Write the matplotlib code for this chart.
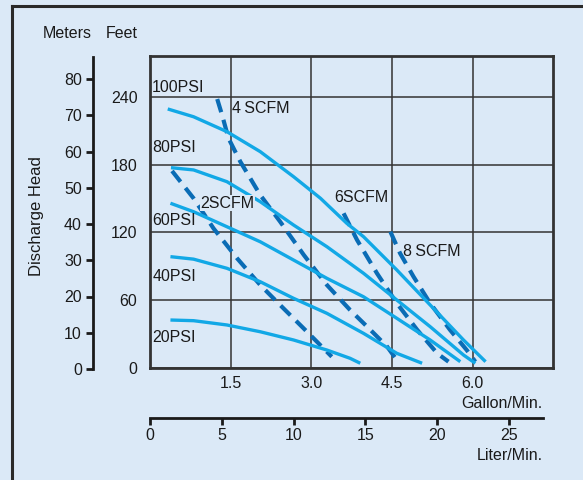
import matplotlib
matplotlib.use("Agg")
import matplotlib.pyplot as plt
from matplotlib.lines import Line2D

plt.rcParams['font.family'] = ['Liberation Sans', 'DejaVu Sans']

# ---- data (flow in gallon/min, head in feet) ----
psi_labels = ["100PSI", "80PSI", "60PSI", "40PSI", "20PSI"]
psi100_gpm = [0.33, 0.81, 1.43, 2.05, 2.67, 3.17, 3.66, 3.97, 4.59, 5.21, 5.83, 6.24]
psi100_ft = [229.4, 222.5, 209.3, 191.6, 169.4, 150.3, 128.1, 116.3, 86.8, 55.8, 24.8, 5.6]
psi80_gpm = [0.39, 0.81, 1.43, 2.05, 2.67, 3.29, 3.97, 4.59, 5.21, 5.83, 6.05]
psi80_ft = [177.4, 175.4, 165.0, 147.3, 126.6, 107.4, 83.9, 60.2, 36.6, 11.5, 4.2]
psi60_gpm = [0.38, 0.81, 1.43, 2.05, 2.67, 3.29, 3.97, 4.59, 5.21, 5.77]
psi60_ft = [145.9, 138.4, 125.1, 111.8, 95.6, 79.4, 63.1, 44.0, 24.8, 5.6]
psi40_gpm = [0.38, 0.81, 1.43, 2.05, 2.67, 3.29, 3.97, 4.59, 5.06]
psi40_ft = [98.6, 96.4, 88.3, 76.4, 61.7, 48.4, 30.7, 13.0, 4.2]
psi20_gpm = [0.38, 0.81, 1.43, 2.05, 2.67, 3.29, 3.72, 3.91]
psi20_ft = [42.5, 41.9, 38.1, 32.1, 24.8, 15.9, 8.6, 4.2]

scfm_labels = ["2SCFM", "4\u2009SCFM", "6SCFM", "8\u2009SCFM"]
scfm2_gpm = [0.41, 0.81, 1.18, 1.62, 2.05, 2.48, 2.92, 3.38]
scfm2_ft = [174.5, 150.3, 123.7, 97.1, 73.5, 52.9, 32.1, 10.0]
scfm4_gpm = [1.25, 1.34, 1.46, 1.68, 2.05, 2.42, 2.86, 3.29, 3.72, 4.10, 4.41, 4.59]
scfm4_ft = [238.2, 224.1, 203.4, 182.7, 153.2, 129.6, 100.1, 73.5, 51.4, 33.7, 18.9, 7.1]
scfm6_gpm = [3.60, 3.85, 4.22, 4.59, 4.97, 5.34, 5.55]
scfm6_ft = [137.0, 113.4, 83.9, 57.3, 33.7, 13.0, 5.6]
scfm8_gpm = [4.47, 4.65, 4.90, 5.21, 5.58, 5.89, 6.05]
scfm8_ft = [120.7, 101.6, 80.9, 57.3, 33.7, 15.9, 5.6]

gpm_ticks = [1.5, 3.0, 4.5, 6.0]
gpm_ticklabels = ["1.5", "3.0", "4.5", "6.0"]
feet_ticks = [0, 60, 120, 180, 240]
meter_ticks = [0, 10, 20, 30, 40, 50, 60, 70, 80]
liter_ticks = [0, 5, 10, 15, 20, 25]

# label anchor positions (gpm, ft)
psi_label_pos = [(0.04, 248), (0.04, 195), (0.04, 131), (0.04, 80.6), (0.04, 26.6)]
scfm_label_pos = [(0.94, 146), (1.53, 230), (3.43, 151), (4.71, 103.6)]

# ---- style ----
BG = "#dbe9f7"
SOLID = "#12a8e6"
DASH = "#0a6cb5"
GRID = "#333333"
TXT = "#1a1a1a"
FS = 11.5

W, H = 583, 480
fig = plt.figure(figsize=(W / 100, H / 100), dpi=100, facecolor=BG)

def fx(px):
    return px / W

def fy(py):
    return 1 - py / H

# main axes
ax = fig.add_axes([fx(150), fy(368), (553 - 150) / W, (368 - 56) / H])
ax.set_facecolor(BG)
ax.set_xlim(0, 7.494)
ax.set_ylim(0, 276.3)
for s in ax.spines.values():
    s.set_color(GRID)
    s.set_linewidth(2.0)
ax.set_xticks(gpm_ticks)
ax.set_xticklabels(gpm_ticklabels)
ax.set_yticks(feet_ticks)
ax.tick_params(axis='x', length=0, pad=6, labelsize=FS, labelcolor=TXT)
ax.tick_params(axis='y', length=0, pad=9, labelsize=FS, labelcolor=TXT)
ax.grid(True, color=GRID, linewidth=1.1)
ax.set_axisbelow(True)

psi_series = [(psi100_gpm, psi100_ft), (psi80_gpm, psi80_ft), (psi60_gpm, psi60_ft),
              (psi40_gpm, psi40_ft), (psi20_gpm, psi20_ft)]
scfm_series = [(scfm2_gpm, scfm2_ft), (scfm4_gpm, scfm4_ft),
               (scfm6_gpm, scfm6_ft), (scfm8_gpm, scfm8_ft)]

for gx, hy in scfm_series:
    ax.plot(gx, hy, color=DASH, linewidth=3.0, dashes=(3.3, 1.9),
            dash_capstyle='butt', dash_joinstyle='round', zorder=3)
for gx, hy in psi_series:
    ax.plot(gx, hy, color=SOLID, linewidth=2.4, solid_capstyle='butt',
            solid_joinstyle='round', zorder=4)

for lab, (lx, ly) in zip(psi_labels, psi_label_pos):
    ax.text(lx, ly, lab, fontsize=FS, color=TXT, ha='left', va='center', zorder=5)
for i, (lab, (lx, ly)) in enumerate(zip(scfm_labels, scfm_label_pos)):
    kw = {}
    if i == 0:
        kw['bbox'] = dict(facecolor=BG, edgecolor='none', pad=0.5)
    ax.text(lx, ly, lab, fontsize=FS, color=TXT, ha='left', va='center', zorder=5, **kw)

# meters axis
axm = fig.add_axes([fx(93), fy(369), 0.001, (369 - 57) / H])
axm.patch.set_visible(False)
axm.set_ylim(0, 312 / 3.625)
for k in ['right', 'top', 'bottom']:
    axm.spines[k].set_visible(False)
axm.spines['left'].set_color(TXT)
axm.spines['left'].set_linewidth(2.0)
axm.set_xticks([])
axm.set_yticks(meter_ticks)
axm.tick_params(axis='y', direction='out', length=5, width=2.0, color=TXT,
                pad=3, labelsize=FS, labelcolor=TXT)

# liter axis
axl = fig.add_axes([fx(150), fy(418), (543 - 150) / W, 0.001])
axl.patch.set_visible(False)
axl.set_xlim(0, 393 / 14.36)
for k in ['left', 'right', 'top']:
    axl.spines[k].set_visible(False)
axl.spines['bottom'].set_color(TXT)
axl.spines['bottom'].set_linewidth(2.0)
axl.set_yticks([])
axl.set_xticks(liter_ticks)
axl.tick_params(axis='x', direction='out', length=5, width=2.0, color=TXT,
                pad=2, labelsize=FS, labelcolor=TXT)

# axis titles
fig.text(fx(67), fy(34), "Meters", fontsize=FS, color=TXT, ha='center', va='center')
fig.text(fx(122), fy(34), "Feet", fontsize=FS, color=TXT, ha='center', va='center')
fig.text(fx(37), fy(216), "Discharge Head", fontsize=12, color=TXT, ha='center',
         va='center', rotation=90)
fig.text(fx(543), fy(403), "Gallon/Min.", fontsize=FS, color=TXT, ha='right', va='center')
fig.text(fx(543), fy(456), "Liter/Min.", fontsize=FS, color=TXT, ha='right', va='center')

# outer frame (top and left edges)
fig.add_artist(Line2D([fx(12), 1.0], [fy(6), fy(6)], color="#2a2a2a", linewidth=2.2))
fig.add_artist(Line2D([fx(12), fx(12)], [fy(6), 0.0], color="#2a2a2a", linewidth=2.2))

fig.savefig("out.png", dpi=100, facecolor=BG)
